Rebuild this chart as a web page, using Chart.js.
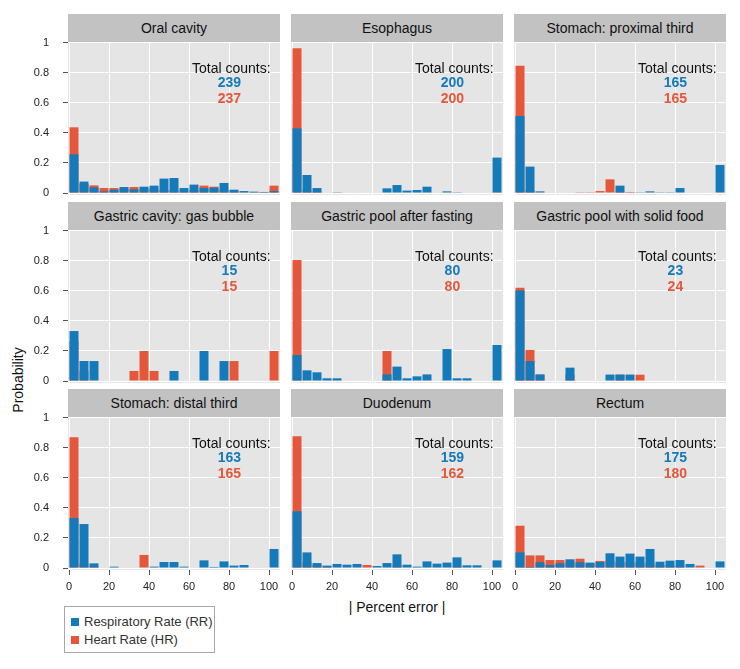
<!DOCTYPE html>
<html><head><meta charset="utf-8">
<script src="https://cdn.jsdelivr.net/npm/chart.js@4.4.1/dist/chart.umd.min.js"></script>
<style>
body{margin:0;background:#fff;width:740px;height:669px;position:relative;overflow:hidden;font-family:"Liberation Sans",Arial,sans-serif;}
.strip{position:absolute;background:#c2c2c2;color:#111;font-size:14px;text-align:center;line-height:28px;height:28px;white-space:nowrap;}
canvas{position:absolute;}
.ytitle{position:absolute;left:18px;top:380px;transform:translate(-50%,-50%) rotate(-90deg);font-size:14px;color:#111;white-space:nowrap;}
.xtitle{position:absolute;left:397px;top:607px;transform:translate(-50%,-50%);font-size:14px;color:#111;white-space:nowrap;}
.legend{position:absolute;left:64px;top:606px;width:149px;height:45px;border:1px solid #a8a8a8;background:#fff;}
.li{position:absolute;left:6px;font-size:13px;color:#333;white-space:nowrap;line-height:16px;}
.sw{display:inline-block;width:8px;height:8px;margin-right:5px;vertical-align:0px;}
</style></head><body>
<div class="ytitle">Probability</div>
<div class="xtitle">| Percent error |</div>
<div class="legend">
  <div class="li" style="top:7px"><span class="sw" style="background:#157ab9"></span>Respiratory Rate (RR)</div>
  <div class="li" style="top:25px"><span class="sw" style="background:#e4573b"></span>Heart Rate (HR)</div>
</div>
<script>
// ---- data ----
const binCenters = [2.5,7.5,12.5,17.5,22.5,27.5,32.5,37.5,42.5,47.5,52.5,57.5,62.5,67.5,72.5,77.5,82.5,87.5,92.5,97.5,102.5];
const xTicks = [0,20,40,60,80,100];
const yTicks = [0,0.2,0.4,0.6,0.8,1];
const panelTitles = ["Oral cavity","Esophagus","Stomach: proximal third","Gastric cavity: gas bubble","Gastric pool after fasting","Gastric pool with solid food","Stomach: distal third","Duodenum","Rectum"];
const rrTotals = [239,200,165,15,80,23,163,159,175];
const hrTotals = [237,200,165,15,80,24,165,162,180];

const rrOralCavity = [0.258,0.076,0.038,0.011,0.022,0.040,0.024,0.042,0.049,0.096,0.100,0.033,0.056,0.033,0.036,0.067,0.022,0.013,0.009,0.007,0.013];
const hrOralCavity = [0.438,0.060,0.051,0.033,0.033,0.030,0.040,0.030,0.030,0.020,0.020,0.010,0.020,0.049,0.042,0.020,0.010,0.005,0.005,0.005,0.049];
const rrEsophagus = [0.431,0.120,0.033,0,0.005,0,0,0,0,0.031,0.053,0.016,0.020,0.042,0,0.011,0.005,0,0,0,0.236];
const hrEsophagus = [0.965,0.020,0.010,0,0,0,0,0,0,0,0,0,0,0,0,0,0,0,0,0,0.005];
const rrStomachProx = [0.513,0.176,0.011,0,0,0,0,0,0,0,0.049,0,0.005,0.011,0.005,0.005,0.033,0,0,0,0.187];
const hrStomachProx = [0.849,0.020,0,0,0,0,0.005,0.005,0.013,0.091,0.010,0.007,0,0,0,0,0,0,0,0,0];
const rrGasBubble = [0.333,0.133,0.133,0,0,0,0,0,0,0,0.067,0,0,0.200,0,0.133,0,0,0,0,0];
const hrGasBubble = [0.267,0.067,0,0,0,0,0.067,0.200,0.067,0,0,0,0,0,0,0,0.133,0,0,0,0.200];
const rrPoolFasting = [0.173,0.071,0.058,0.018,0.018,0,0,0,0,0.044,0.096,0.018,0.031,0.044,0,0.213,0.018,0.018,0,0,0.240];
const hrPoolFasting = [0.807,0,0,0,0,0,0,0,0,0.200,0,0,0,0,0,0,0,0,0,0,0];
const rrPoolSolid = [0.604,0.133,0.044,0,0,0.089,0,0,0,0.043,0.043,0.043,0,0,0,0,0,0,0,0,0];
const hrPoolSolid = [0.622,0.207,0.042,0,0,0.042,0,0,0,0,0.042,0,0.042,0,0,0,0,0,0,0,0];
const rrStomachDist = [0.333,0.293,0.031,0,0.009,0,0,0,0.009,0.040,0.040,0.009,0,0.051,0.007,0.044,0.016,0.020,0,0,0.127];
const hrStomachDist = [0.871,0.030,0.010,0,0,0,0,0.087,0,0,0,0,0,0,0,0,0,0,0,0,0];
const rrDuodenum = [0.378,0.104,0.033,0.016,0.027,0.022,0.027,0,0.013,0.033,0.091,0.022,0.009,0.044,0.029,0.036,0.071,0.018,0.018,0,0.051];
const hrDuodenum = [0.878,0.040,0.020,0.010,0,0,0,0.020,0,0,0.020,0,0,0,0,0,0.010,0,0,0,0];
const rrRectum = [0.104,0.007,0.038,0.020,0.031,0.058,0.038,0.036,0.040,0.098,0.076,0.096,0.076,0.127,0.042,0.049,0.053,0.027,0,0,0.044];
const hrRectum = [0.282,0.084,0.084,0.053,0.053,0.040,0.062,0.030,0.047,0.050,0.040,0.040,0.040,0.030,0.020,0.020,0.010,0,0.016,0,0];

const rrSeries = [rrOralCavity,rrEsophagus,rrStomachProx,rrGasBubble,rrPoolFasting,rrPoolSolid,rrStomachDist,rrDuodenum,rrRectum];
const hrSeries = [hrOralCavity,hrEsophagus,hrStomachProx,hrGasBubble,hrPoolFasting,hrPoolSolid,hrStomachDist,hrDuodenum,hrRectum];

// ---- style / layout ----
const BLUE = '#157ab9', RED = '#e4573b';
const plotLeft = [68, 291, 514];
const plotTop = [42, 230, 417];
const PW = 212, PH = 153, YAX = 68, XAX = 30, TOPPAD = 10;
const yMax = 151/150, yMin = 151/150 - PH/150;

Chart.defaults.font.family = '"Liberation Sans", Arial, sans-serif';
Chart.defaults.color = '#222';

function zeroPad(s){ s.paddingLeft = 0; s.paddingRight = 0; s.paddingTop = 0; s.paddingBottom = 0; }

const bgPlugin = {
  id:'panelBg',
  beforeDraw(chart){
    const a = chart.chartArea, ctx = chart.ctx;
    ctx.save(); ctx.fillStyle = '#e5e5e6';
    ctx.fillRect(a.left, a.top, a.right-a.left, a.bottom-a.top);
    ctx.restore();
  }
};
const totalsPlugin = {
  id:'totals',
  afterDatasetsDraw(chart, args, opts){
    const ctx = chart.ctx, xs = chart.scales.x, ys = chart.scales.y;
    ctx.save();
    ctx.textBaseline = 'middle';
    ctx.font = '14px "Liberation Sans", Arial, sans-serif';
    ctx.fillStyle = '#111'; ctx.textAlign = 'right';
    ctx.fillText('Total counts:', xs.getPixelForValue(100.8), ys.getPixelForValue(0.827));
    ctx.font = 'bold 14px "Liberation Sans", Arial, sans-serif';
    ctx.textAlign = 'center';
    ctx.fillStyle = BLUE;
    ctx.fillText(String(opts.rr), xs.getPixelForValue(80.2), ys.getPixelForValue(0.733));
    ctx.fillStyle = RED;
    ctx.fillText(String(opts.hr), xs.getPixelForValue(80.2), ys.getPixelForValue(0.627));
    ctx.restore();
  }
};

for (let i = 0; i < 9; i++) {
  const col = i % 3, row = Math.floor(i / 3);
  const strip = document.createElement('div');
  strip.className = 'strip';
  strip.style.left = plotLeft[col] + 'px';
  strip.style.top = (plotTop[row] - 28) + 'px';
  strip.style.width = PW + 'px';
  strip.textContent = panelTitles[i];
  document.body.appendChild(strip);

  const cv = document.createElement('canvas');
  cv.width = YAX + PW; cv.height = TOPPAD + PH + XAX;
  cv.style.left = (plotLeft[col] - YAX) + 'px';
  cv.style.top = (plotTop[row] - TOPPAD) + 'px';
  document.body.appendChild(cv);
  const showX = row === 2, showY = col === 0;

  new Chart(cv, {
    type: 'bar',
    data: { datasets: [
      { label:'Respiratory Rate (RR)', data: binCenters.map((x,k)=>({x, y: rrSeries[i][k]})), backgroundColor: BLUE, grouped:false, barPercentage:0.9, categoryPercentage:1 },
      { label:'Heart Rate (HR)', data: binCenters.map((x,k)=>({x, y: hrSeries[i][k]})), backgroundColor: RED, grouped:false, barPercentage:0.9, categoryPercentage:1 }
    ]},
    options: {
      responsive:false, animation:false, devicePixelRatio:1,
      layout:{ padding:{top:TOPPAD, left:0, right:0, bottom:0}, autoPadding:false },
      plugins:{ legend:{display:false}, tooltip:{enabled:false}, totals:{ rr: rrTotals[i], hr: hrTotals[i] } },
      scales:{
        x:{ type:'linear', min:-0.5, max:105.5, offset:false,
          afterBuildTicks: s => { s.ticks = xTicks.map(v => ({value:v})); },
          afterFit: s => { s.height = XAX; zeroPad(s); },
          grid:{ color:'#ffffff', lineWidth:1, drawTicks:showX, tickLength:5, tickColor:'#555', offset:false },
          border:{ display:false },
          ticks:{ display:showX, padding:5, font:{size:11}, color:'#222', maxRotation:0, autoSkip:false }
        },
        y:{ type:'linear', min:yMin, max:yMax,
          afterBuildTicks: s => { s.ticks = yTicks.map(v => ({value:v})); },
          afterFit: s => { s.width = YAX; zeroPad(s); },
          grid:{ color:'#ffffff', lineWidth:1, drawTicks:showY, tickLength:5, tickColor:'#555' },
          border:{ display:false },
          ticks:{ display:showY, padding:14, font:{size:11}, color:'#222', callback: v => String(Math.round(v*10)/10) }
        }
      }
    },
    plugins:[bgPlugin, totalsPlugin]
  });
}
</script>
</body></html>
